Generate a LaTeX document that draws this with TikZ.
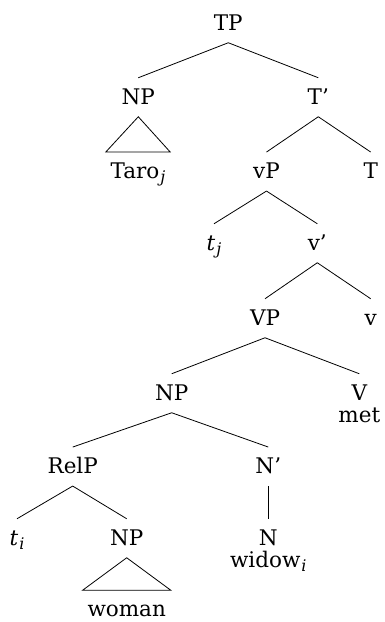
\documentclass[tikz,border=0pt]{standalone}
\usepackage{fontspec}
\setmainfont{DejaVu Serif}
\newcommand{\idx}[1]{\kern1pt\raisebox{-4pt}{\fontsize{16}{16}\selectfont\textit{#1}}}

\begin{document}
\begin{tikzpicture}[x=1pt, y=-1pt, line width=0.8pt,
    every node/.style={font=\fontsize{21.5}{22}\selectfont, anchor=base,
        inner xsep=4.5pt, inner ysep=0pt, text height=15.5pt, text depth=2pt,
        minimum height=38.2pt},
    leaf/.style={text height=25.85pt, minimum height=0pt},
    branch/.style={draw=black},
    roof/.style={draw=black, line join=miter}]
\useasboundingbox (0,0) rectangle (385,622);

% Nodes for the upper part
\node (tp) at (228.3,30) {TP};
\node (np) at (138.3,104) {NP};
\node (tbar) at (318.3,104) {T'};
\node[leaf] (taro) at (138,178.3) {Taro\idx{j}};
\node (vp) at (266.5,178.3) {vP};
\node (t) at (370.7,178.3) {T};
\node (tj) at (214,250) {\textit{t}\idx{j}};
\node (vbar) at (317.3,250) {v'};

% Nodes for the VP
\node (bigvp) at (265,325) {VP};
\node (v) at (370.7,325) {v};
\node (obj) at (171.7,400) {NP};
\node (bigv) at (359.3,400) {V};
\node (met) at (359.3,422) {met};

% Nodes for the object NP
\node (relp) at (72.7,473.3) {RelP};
\node (nbar) at (268.3,473.3) {N'};
\node (ti) at (17,545) {\textit{t}\idx{i}};
\node (relnp) at (126.7,545) {NP};
\node (n) at (268.3,545) {N};
\node (widow) at (268.3,567) {widow\idx{i}};
\node[leaf] (woman) at (126.7,616.5) {woman};

% branches
\draw[branch] (tp.south) -- (np.north);
\draw[branch] (tp.south) -- (tbar.north);
\draw[branch] (tbar.south) -- (vp.north);
\draw[branch] (tbar.south) -- (t.north);
\draw[branch] (vp.south) -- (tj.north);
\draw[branch] (vp.south) -- (vbar.north);
\draw[branch] (vbar.south) -- (bigvp.north);
\draw[branch] (vbar.south) -- (v.north);
\draw[branch] (bigvp.south) -- (obj.north);
\draw[branch] (bigvp.south) -- (bigv.north);
\draw[branch] (obj.south) -- (relp.north);
\draw[branch] (obj.south) -- (nbar.north);
\draw[branch] (relp.south) -- (ti.north);
\draw[branch] (relp.south) -- (relnp.north);
\draw[branch] (nbar.south) -- (n.north);

% roofs
\draw[roof] (np.south) -- (taro.north west) -- (taro.north east) -- cycle;
\draw[roof] (relnp.south) -- (woman.north west) -- (woman.north east) -- cycle;

\end{tikzpicture}
\end{document}
